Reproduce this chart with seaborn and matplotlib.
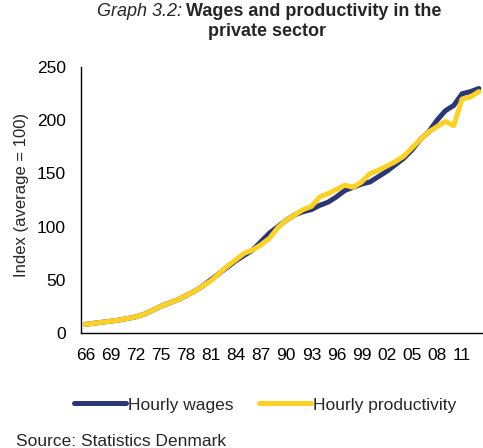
import matplotlib
matplotlib.use("Agg")
import matplotlib.pyplot as plt
import numpy as np
import pandas as pd
import seaborn as sb

years = list(range(1966, 2014))
wages = [8, 9, 10, 11, 12, 13.5, 15, 17.5, 21, 25, 28, 31, 35, 39, 44, 50,
         56, 62, 68, 73, 78, 86, 94, 100, 106, 111, 114, 116, 120, 123, 128, 134,
         137, 140, 142, 147, 152, 158, 164, 172, 182, 189, 200, 209, 214, 225, 227, 230]
productivity = [8, 9, 10, 11, 12, 13.5, 15, 17.5, 21, 25, 28, 31, 35, 39, 44, 49,
                56, 63, 69, 75, 78, 83, 89, 99, 106, 111, 116, 119, 128, 131, 135, 139,
                137, 142, 150, 153, 157, 161, 166, 174, 182, 189, 194, 199, 195, 220, 222, 227]
tick_years = list(range(1966, 2012, 3))
tick_labels = [str(y)[2:] for y in tick_years]

df = pd.DataFrame({"Year": years * 2,
                   "Index": wages + productivity,
                   "Series": ["Hourly wages"] * len(years) + ["Hourly productivity"] * len(years)})

sb.set_style("white")
plt.rcParams["font.family"] = ["Liberation Sans", "DejaVu Sans"]

fig = plt.figure(figsize=(4.83, 4.48), dpi=100)
ax = fig.add_axes([0.168, 0.257, 0.832, 0.593])

sb.lineplot(data=df, x="Year", y="Index", hue="Series",
            palette={"Hourly wages": "#2b3676", "Hourly productivity": "#fdd225"},
            linewidth=3.6, ax=ax, legend=True)

ax.set_xlim(1965.5, 2013.5)
ax.set_ylim(0, 250)
ax.set_xticks(tick_years)
ax.set_xticklabels(tick_labels)
ax.set_yticks(range(0, 251, 50))
ax.tick_params(axis="both", length=0, labelsize=12.5, colors="black")
ax.tick_params(axis="y", pad=11)
ax.tick_params(axis="x", pad=11)
ax.set_xlabel("")
ax.set_ylabel("Index (average = 100)", fontsize=12)
ax.yaxis.set_label_coords(29 / 483, 1 - 195 / 448, transform=fig.transFigure)

for side in ["top", "right"]:
    ax.spines[side].set_visible(False)
for side in ["left", "bottom"]:
    ax.spines[side].set_color("black")
    ax.spines[side].set_linewidth(1)

ax.legend(loc="center", bbox_to_anchor=(265 / 483, 1 - 405 / 448), bbox_transform=fig.transFigure,
          ncol=2, frameon=False, fontsize=12.5, handlelength=3.0, handletextpad=0.1,
          columnspacing=1.5)

fig.text(182 / 483, 1 - 12 / 448, "Graph 3.2:", ha="right", va="center",
         fontsize=13, style="italic")
fig.text(186 / 483, 1 - 12 / 448, "Wages and productivity in the", ha="left", va="center",
         fontsize=13, weight="bold")
fig.text(267 / 483, 1 - 31 / 448, "private sector", ha="center", va="center",
         fontsize=13, weight="bold")
fig.text(16 / 483, 1 - 441 / 448, "Source: Statistics Denmark", ha="left", va="center",
         fontsize=12.5)

fig.savefig("out.png", dpi=100)
